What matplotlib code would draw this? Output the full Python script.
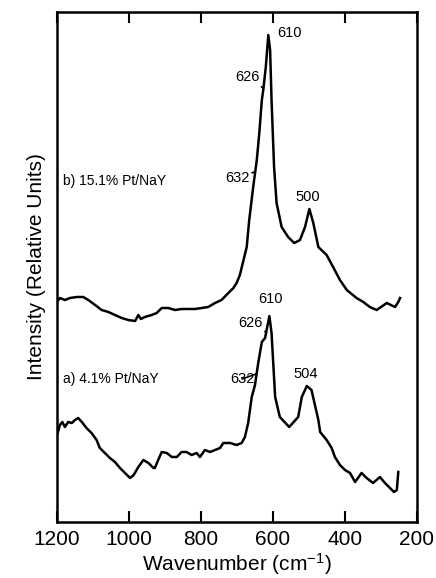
import matplotlib
matplotlib.use("Agg")
import matplotlib.pyplot as plt

plt.rcParams['font.family'] = ['Liberation Sans', 'DejaVu Sans']
plt.rcParams['mathtext.default'] = 'regular'

# spectrum b) 15.1% Pt/NaY  (wavenumber, relative intensity)
wn_b = [1196, 1192, 1178, 1164, 1145, 1127, 1113, 1094, 1076, 1057, 1039, 1020, 1002,
        983, 974, 967, 956, 937, 923, 909, 891, 872, 854, 835, 817, 798, 780, 761,
        743, 724, 710, 701, 692, 673, 666, 655, 645, 638, 631, 627, 620, 613, 608,
        604, 597, 590, 576, 558, 541, 525, 511, 499, 488, 474, 451, 433, 414, 395,
        368, 349, 331, 312, 284, 261, 252, 247]
int_b = [222, 224, 222, 224, 225, 225, 222, 217, 212, 210, 207, 204, 202,
         201, 207, 203, 205, 207, 209, 214, 214, 212, 213, 213, 213, 214, 215, 219,
         222, 229, 234, 239, 247, 275, 302, 335, 362, 389, 422, 432, 455, 487, 472,
         422, 355, 319, 295, 285, 279, 282, 295, 313, 299, 275, 267, 255, 242, 232,
         224, 220, 215, 212, 219, 215, 220, 224]

# spectrum a) 4.1% Pt/NaY
wn_a = [1198, 1192, 1185, 1178, 1169, 1159, 1150, 1141, 1131, 1118, 1104, 1090, 1081,
        1067, 1053, 1039, 1025, 1011, 997, 987, 974, 960, 946, 932, 928, 919, 909,
        895, 881, 867, 854, 840, 826, 812, 803, 789, 775, 761, 747, 738, 719, 701,
        687, 678, 669, 659, 650, 641, 631, 622, 610, 604, 594, 581, 555, 530, 520,
        506, 493, 474, 469, 451, 437, 428, 414, 400, 386, 372, 354, 340, 322, 303,
        289, 275, 264, 256, 252]
int_a = [89, 97, 100, 95, 100, 99, 102, 104, 100, 94, 89, 82, 74,
         69, 64, 60, 54, 49, 44, 47, 55, 62, 59, 54, 54, 62, 70,
         69, 65, 65, 70, 70, 67, 69, 65, 72, 70, 72, 74, 79, 79, 77,
         79, 85, 99, 125, 137, 159, 180, 184, 206, 189, 125, 105, 95, 105, 125,
         136, 132, 102, 90, 82, 74, 65, 57, 52, 49, 40, 49, 44, 39, 45,
         39, 34, 30, 32, 50]

# peak labels: text, text position, curve point for leader (None = no leader)
peaks_b = [("610", 553, 489, None), ("626", 672, 445, (627, 434)),
           ("632", 700, 344, (652, 350)), ("500", 503, 325, None)]
peaks_a = [("610", 606, 223, None), ("626", 664, 199, (620, 190)),
           ("632", 686, 143, (647, 148)), ("504", 508, 148, None)]

fig = plt.figure(figsize=(4.36, 5.78), dpi=100)
ax = fig.add_axes([0.1307, 0.0969, 0.8257, 0.8823])

ax.plot(wn_b, int_b, color="black", lw=1.8)
ax.plot(wn_a, int_a, color="black", lw=1.8)

for txt, x, y, pt in peaks_b + peaks_a:
    if pt is None:
        ax.text(x, y, txt, ha="center", va="center", fontsize=10.5)
    else:
        ax.annotate(txt, xy=pt, xytext=(x, y), ha="center", va="center", fontsize=10.5,
                    arrowprops=dict(arrowstyle="-", lw=1.2, color="black",
                                    shrinkA=0, shrinkB=0))

ax.text(1183, 341, "b) 15.1% Pt/NaY", ha="left", va="center", fontsize=10)
ax.text(1183, 143, "a) 4.1% Pt/NaY", ha="left", va="center", fontsize=10)

ax.set_xlim(1200, 200)
ax.set_ylim(0, 510)
ax.set_xticks([1200, 1000, 800, 600, 400, 200])
ax.set_yticks([])
ax.tick_params(axis="x", direction="in", top=True, length=8, width=1.5,
               labelsize=15, pad=6)
for s in ax.spines.values():
    s.set_linewidth(1.8)

ax.set_xlabel("Wavenumber (cm$^{-1}$)", fontsize=15, labelpad=1)
ax.set_ylabel("Intensity (Relative Units)", fontsize=15, labelpad=8)

fig.savefig("out.png", dpi=100)
